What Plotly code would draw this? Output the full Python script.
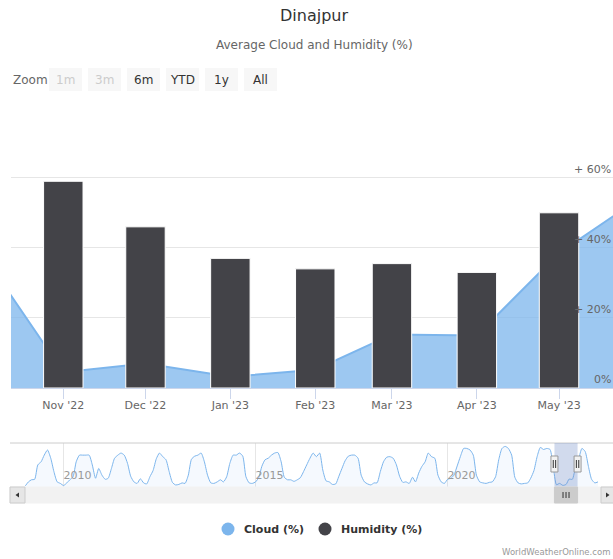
import pandas as pd
import plotly.graph_objects as go

# ---------------- data ----------------
cloud_start = "2009-01-01"
cloud_pct = [
    # 2009
    2, 10, 14, 15, 43, 49, 62, 72, 56, 30, 10, 7,
    # 2010
    3, 8, 14, 20, 49, 62, 62, 62, 62, 43, 17, 36,
    # 2011
    23, 15, 17, 36, 56, 62, 66, 62, 46, 21, 10, 7,
    # 2012
    16, 8, 6, 20, 32, 55, 66, 59, 53, 30, 9, 4,
    # 2013
    5, 8, 7, 23, 54, 60, 62, 66, 49, 23, 8, 7,
    # 2014
    10, 14, 10, 20, 46, 62, 62, 66, 60, 20, 8, 7,
    # 2015
    10, 19, 40, 53, 56, 62, 66, 67, 49, 19, 14, 14,
    # 2016
    11, 14, 18, 30, 43, 56, 66, 59, 66, 33, 12, 10,
    # 2017
    5, 6, 20, 36, 51, 60, 62, 62, 56, 23, 10, 6,
    # 2018
    4, 8, 8, 30, 49, 58, 59, 56, 43, 21, 9, 10,
    # 2019
    7, 19, 10, 27, 40, 49, 66, 59, 56, 23, 10, 7,
    # 2020
    15, 17, 23, 41, 59, 75, 75, 72, 62, 23, 10, 8,
    # 2021
    7, 9, 10, 20, 53, 75, 79, 75, 62, 19, 8, 6,
    # 2022
    7, 8, 17, 32, 59, 77, 73, 75, 73, 40, 4.5, 7,
    # 2023
    3.2, 5.2, 15.3, 15, 38.5, 55, 75, 69, 40, 15, 8, 10,
]
cloud_dates = pd.date_range(cloud_start, periods=len(cloud_pct), freq="MS")

humidity_months = ["2022-11-01", "2022-12-01", "2023-01-01", "2023-02-01",
                   "2023-03-01", "2023-04-01", "2023-05-01"]
humidity_pct = [59, 46, 37, 34, 35.5, 33, 50]

main_range = ["2022-10-12 21:36", "2023-05-20 17:00"]
y_tick_vals = [0, 20, 40, 60]
y_tick_text = ["0%", "+ 20%", "+ 40%", "+ 60%"]
zoom_buttons = ["1m", "3m", "6m", "YTD", "1y", "All"]
zoom_enabled = [False, False, True, True, True, True]
legend_names = ["Cloud (%)", "Humidity (%)"]
series_colors = ["#7cb5ec", "#434348"]

# ---------------- geometry helpers ----------------
W, H = 613, 559
L, PW = 11, 602


def xp(px):
    return (px - L) / PW


def yp(py):
    return 1 - py / H


FONT = "DejaVu Sans"

fig = go.Figure()

# main chart: cloud area
fig.add_trace(go.Scatter(
    x=cloud_dates, y=cloud_pct, mode="lines", name=legend_names[0],
    line=dict(color=series_colors[0], width=2),
    fill="tozeroy", fillcolor="rgba(124,181,236,0.75)",
    xaxis="x", yaxis="y", showlegend=False, hoverinfo="skip",
))
# main chart: humidity bars (on overlaying axis so they sit above the area)
fig.add_trace(go.Bar(
    x=pd.to_datetime(humidity_months), y=humidity_pct, name=legend_names[1],
    marker=dict(color=series_colors[1], line=dict(color="#ffffff", width=1)),
    width=14.4 * 86400000,
    xaxis="x", yaxis="y3", showlegend=False, hoverinfo="skip",
))
# navigator series
fig.add_trace(go.Scatter(
    x=cloud_dates, y=cloud_pct, mode="lines",
    line=dict(color="#7cb5ec", width=1, shape="spline", smoothing=0.6),
    fill="tozeroy", fillcolor="rgba(124,181,236,0.08)",
    xaxis="x2", yaxis="y2", showlegend=False, hoverinfo="skip",
))

main_dom = [yp(388), yp(107.7)]
nav_dom = [yp(487), yp(443)]

shapes = []
annotations = []

# y-axis labels (inside, right, above gridlines)
for v, t in zip(y_tick_vals, y_tick_text):
    annotations.append(dict(
        x=1, xref="paper", y=v, yref="y", xanchor="right", yanchor="bottom",
        text=t, showarrow=False, font=dict(family=FONT, size=11, color="#666666"),
    ))

# subtitle
annotations.append(dict(
    x=xp(314), xref="paper", y=yp(44.5), yref="paper", xanchor="center", yanchor="middle",
    text="Average Cloud and Humidity (%)", showarrow=False,
    font=dict(family=FONT, size=12, color="#666666"),
))

# range selector (drawn)
annotations.append(dict(
    x=xp(11), xref="paper", y=yp(79.5), yref="paper", xanchor="left", yanchor="middle",
    text="Zoom", showarrow=False, font=dict(family=FONT, size=12, color="#666666"),
))
for i, (lab, en) in enumerate(zip(zoom_buttons, zoom_enabled)):
    x0 = 49 + 39 * i
    shapes.append(dict(type="rect", xref="paper", yref="paper",
                       x0=xp(x0), x1=xp(x0 + 33), y0=yp(91), y1=yp(68),
                       fillcolor="#f7f7f7", line=dict(width=0), layer="below"))
    annotations.append(dict(
        x=xp(x0 + 16.5), xref="paper", y=yp(79.5), yref="paper",
        xanchor="center", yanchor="middle", text=lab, showarrow=False,
        font=dict(family=FONT, size=12, color="#333333" if en else "#cccccc"),
    ))

# navigator outline line
shapes.append(dict(type="line", xref="paper", yref="paper",
                   x0=xp(10), x1=1, y0=yp(443), y1=yp(443),
                   line=dict(color="#cccccc", width=1)))
# navigator selection mask
shapes.append(dict(type="rect", xref="x2", yref="y2 domain",
                   x0=main_range[0], x1=main_range[1], y0=0, y1=1,
                   fillcolor="rgba(102,133,194,0.3)", line=dict(width=0)))
# handles
for d in main_range:
    shapes.append(dict(type="rect", xref="x2", yref="paper",
                       xsizemode="pixel", xanchor=d, x0=-3.5, x1=3.5,
                       ysizemode="pixel", yanchor=yp(464), y0=-8, y1=8,
                       fillcolor="#f2f2f2", line=dict(color="#999999", width=1)))
    for off in (-1.2, 1.2):
        shapes.append(dict(type="line", xref="x2", yref="paper",
                           xsizemode="pixel", xanchor=d, x0=off, x1=off,
                           ysizemode="pixel", yanchor=yp(464), y0=-4, y1=4,
                           line=dict(color="#333333", width=1)))

# scrollbar track
shapes.append(dict(type="rect", xref="paper", yref="paper",
                   x0=xp(10), x1=1, y0=yp(503), y1=yp(487),
                   fillcolor="#f2f2f2", line=dict(color="#f2f2f2", width=1)))
# scrollbar thumb
shapes.append(dict(type="rect", xref="x2", yref="paper",
                   x0=main_range[0], x1=main_range[1], y0=yp(503), y1=yp(487),
                   fillcolor="#cccccc", line=dict(color="#cccccc", width=1)))
for off in (-3, 0, 3):
    shapes.append(dict(type="line", xref="x2", yref="paper",
                       xsizemode="pixel", xanchor="2023-01-31", x0=off, x1=off,
                       ysizemode="pixel", yanchor=yp(495), y0=-3, y1=3,
                       line=dict(color="#333333", width=1)))
# scrollbar buttons
for bx0, bx1 in ((10, 25), (601, 616)):
    shapes.append(dict(type="rect", xref="paper", yref="paper",
                       x0=xp(bx0), x1=xp(bx1), y0=yp(503), y1=yp(487),
                       fillcolor="#e6e6e6", line=dict(color="#cccccc", width=1)))
shapes.append(dict(type="path", xref="paper", yref="paper",
                   path=f"M {xp(15.5)} {yp(495)} L {xp(19)} {yp(492.5)} L {xp(19)} {yp(497.5)} Z",
                   fillcolor="#333333", line=dict(width=0)))
shapes.append(dict(type="path", xref="paper", yref="paper",
                   path=f"M {xp(609.5)} {yp(495)} L {xp(606)} {yp(492.5)} L {xp(606)} {yp(497.5)} Z",
                   fillcolor="#333333", line=dict(width=0)))

# legend (drawn)
legend_x = [(228, 242), (325, 339)]
for (cx, tx), name, col in zip(legend_x, legend_names, series_colors):
    shapes.append(dict(type="circle", xref="paper", yref="paper",
                       xsizemode="pixel", ysizemode="pixel",
                       xanchor=xp(cx), yanchor=yp(529), x0=-6.5, x1=6.5, y0=-6.5, y1=6.5,
                       fillcolor=col, line=dict(width=0)))
    annotations.append(dict(
        x=xp(tx), xref="paper", y=yp(529), yref="paper", xanchor="left", yanchor="middle",
        text=f"<b>{name}</b>", showarrow=False,
        font=dict(family=FONT, size=11, color="#333333"),
    ))

# credits
annotations.append(dict(
    x=xp(612), xref="paper", y=yp(551.5), yref="paper", xanchor="right", yanchor="middle",
    text="WorldWeatherOnline.com", showarrow=False,
    font=dict(family=FONT, size=8.5, color="#999999"),
))

fig.update_layout(
    width=W, height=H,
    margin=dict(l=L, r=0, t=0, b=0),
    paper_bgcolor="#ffffff", plot_bgcolor="rgba(0,0,0,0)",
    font=dict(family=FONT, color="#666666"),
    title=dict(text="Dinajpur", x=314 / W, xref="container", xanchor="center",
               y=yp(15.5), yref="container", yanchor="middle",
               font=dict(family=FONT, size=16, color="#333333")),
    barmode="overlay",
    xaxis=dict(
        type="date", domain=[0, 1], range=main_range, anchor="y",
        tick0="2022-11-01", dtick="M1", tickformat="%b '%y",
        ticks="outside", ticklen=10, tickcolor="#ccd6eb", tickwidth=1,
        ticklabelstandoff=-3,
        showline=True, linecolor="#ccd6eb", linewidth=1,
        showgrid=False, zeroline=False,
        tickfont=dict(family=FONT, size=11, color="#666666"),
    ),
    yaxis=dict(
        domain=main_dom, range=[0, 80], tickvals=[0, 20, 40, 60, 80],
        showticklabels=False, showgrid=True, gridcolor="#e6e6e6", gridwidth=1,
        zeroline=False, showline=False, ticks="", fixedrange=True,
    ),
    yaxis3=dict(
        overlaying="y", range=[0, 80], visible=False, showgrid=False,
    ),
    xaxis2=dict(
        type="date", domain=[xp(25.2), xp(598)], anchor="y2",
        range=[cloud_dates[0], cloud_dates[-1]],
        tick0="2010-01-01", dtick="M60", tickformat="%Y",
        ticklabelposition="inside right", ticks="",
        showgrid=True, gridcolor="#e6e6e6", gridwidth=1,
        showline=False, zeroline=False,
        tickfont=dict(family=FONT, size=11, color="#999999"),
    ),
    yaxis2=dict(
        domain=nav_dom, range=[0, 85.6], visible=False, showgrid=False,
    ),
    shapes=shapes,
    annotations=annotations,
)

fig.write_html(
    "out.html",
    config={"displayModeBar": False},
    post_script="document.body.style.margin='0';document.body.style.overflow='hidden';",
)
